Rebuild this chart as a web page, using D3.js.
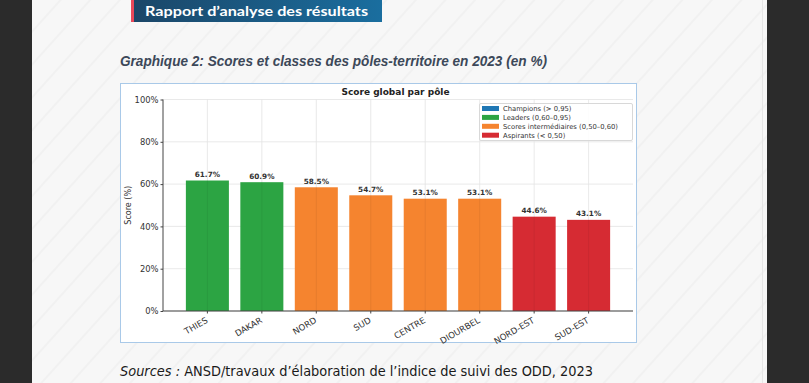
<!DOCTYPE html>
<html>
<head>
<meta charset="utf-8">
<script src="https://cdn.jsdelivr.net/npm/d3@7"></script>
<style>
  html, body { margin: 0; padding: 0; background: #2b2b2b; }
  svg { display: block; }
</style>
</head>
<body>
<div id="page"></div>
<script>
// Données du graphique
const poles = ["THIES", "DAKAR", "NORD", "SUD", "CENTRE", "DIOURBEL", "NORD-EST", "SUD-EST"];
const scores = [61.7, 60.9, 58.5, 54.7, 53.1, 53.1, 44.6, 43.1];
const classes = ["Leaders", "Leaders", "Intermediaires", "Intermediaires", "Intermediaires", "Intermediaires", "Aspirants", "Aspirants"];
const yTicks = [0, 20, 40, 60, 80, 100];
const legendKeys = ["Champions", "Leaders", "Intermediaires", "Aspirants"];
const legendLabels = ["Champions (> 0,95)", "Leaders (0,60–0,95)", "Scores intermédiaires (0,50–0,60)", "Aspirants (< 0,50)"];

// Couleurs
const classColor = d3.scaleOrdinal()
  .domain(legendKeys)
  .range(["#1f77b4", "#2ca443", "#f5842f", "#d62b33"]);
const textColor = "#333333";
const font = "DejaVu Sans, sans-serif";

const width = 809, height = 383;

const svg = d3.select('#page').append('svg')
  .attr('width', width)
  .attr('height', height);

// Fond rayé de la page
const defs = svg.append('defs');
const pat = defs.append('pattern')
  .attr('id', 'stripes')
  .attr('patternUnits', 'userSpaceOnUse')
  .attr('width', 22).attr('height', 22)
  .attr('patternTransform', 'rotate(42)');
pat.append('rect').attr('width', 22).attr('height', 22).attr('fill', '#f7f7f7');
pat.append('rect').attr('width', 2).attr('height', 22).attr('fill', '#f1f1f1');

const banGrad = defs.append('linearGradient').attr('id', 'banGrad');
banGrad.append('stop').attr('offset', '0%').attr('stop-color', '#1b4668');
banGrad.append('stop').attr('offset', '100%').attr('stop-color', '#1a6e9f');

svg.append('rect')
  .attr('x', 32).attr('y', 0)
  .attr('width', 735).attr('height', height)
  .attr('fill', 'url(#stripes)');
svg.append('line')
  .attr('x1', 762.5).attr('x2', 762.5).attr('y1', 0).attr('y2', height)
  .attr('stroke', '#e6e6e6');

// Bandeau
svg.append('rect').attr('x', 131).attr('y', 0).attr('width', 3).attr('height', 22).attr('fill', '#e8485a');
svg.append('rect').attr('x', 134).attr('y', 0).attr('width', 248).attr('height', 22).attr('fill', 'url(#banGrad)');
svg.append('text')
  .attr('x', 145).attr('y', 16)
  .attr('fill', '#ffffff')
  .attr('font-family', 'Lato, sans-serif')
  .attr('font-weight', 'bold')
  .attr('font-size', 13.5)
  .attr('textLength', 223)
  .attr('lengthAdjust', 'spacingAndGlyphs')
  .text("Rapport d’analyse des résultats");

// Titre du graphique
svg.append('text')
  .attr('x', 120).attr('y', 66)
  .attr('fill', '#3c4859')
  .attr('font-family', 'Liberation Sans, Arial, sans-serif')
  .attr('font-weight', 'bold')
  .attr('font-style', 'italic')
  .attr('font-size', 14)
  .attr('textLength', 427)
  .attr('lengthAdjust', 'spacingAndGlyphs')
  .text("Graphique 2: Scores et classes des pôles-territoire en 2023 (en %)");

// Cadre de la figure
svg.append('rect')
  .attr('x', 120.5).attr('y', 83.5)
  .attr('width', 516).attr('height', 259)
  .attr('fill', '#ffffff')
  .attr('stroke', '#a9c9e8');

// Échelles
const x = d3.scaleBand()
  .domain(poles)
  .range([163, 633])
  .paddingInner(0.21)
  .paddingOuter(0.42);
const y = d3.scaleLinear()
  .domain([0, 100])
  .range([311, 99.5]);

// Grille
const grid = svg.append('g').attr('stroke', '#e3e3e3').attr('stroke-width', 0.8);
grid.selectAll('.hg').data(yTicks).join('line')
  .attr('x1', 163).attr('x2', 633)
  .attr('y1', d => y(d)).attr('y2', d => y(d));
grid.selectAll('.vg').data(poles).join('line')
  .attr('x1', d => x(d) + x.bandwidth() / 2).attr('x2', d => x(d) + x.bandwidth() / 2)
  .attr('y1', y(0)).attr('y2', y(100));

// Barres
svg.append('g').selectAll('rect').data(poles).join('rect')
  .attr('x', d => x(d))
  .attr('y', (d, i) => y(scores[i]))
  .attr('width', x.bandwidth())
  .attr('height', (d, i) => y(0) - y(scores[i]))
  .attr('fill', (d, i) => classColor(classes[i]));

// Grille verticale au-dessus des barres (légère)
svg.append('g').attr('stroke', '#000').attr('stroke-opacity', 0.08).attr('stroke-width', 0.8)
  .selectAll('line').data(poles).join('line')
  .attr('x1', d => x(d) + x.bandwidth() / 2).attr('x2', d => x(d) + x.bandwidth() / 2)
  .attr('y1', (d, i) => y(scores[i])).attr('y2', y(0));

// Étiquettes de valeurs
svg.append('g').selectAll('text').data(poles).join('text')
  .attr('x', d => x(d) + x.bandwidth() / 2)
  .attr('y', (d, i) => y(scores[i]) - 3.5)
  .attr('text-anchor', 'middle')
  .attr('font-family', font)
  .attr('font-weight', 'bold')
  .attr('font-size', 7.3)
  .attr('fill', textColor)
  .text((d, i) => scores[i].toFixed(1) + '%');

// Axe Y
const yAxis = svg.append('g')
  .attr('transform', 'translate(163,0)')
  .call(d3.axisLeft(y).tickValues(yTicks).tickFormat(d => d + '%').tickSize(2.5).tickPadding(2));
yAxis.select('.domain').attr('stroke', '#444').attr('d', `M0,${y(0)}V${y(100)}`);
yAxis.selectAll('.tick line').attr('stroke', '#444');
yAxis.selectAll('.tick text')
  .attr('font-family', font).attr('font-size', 8.4).attr('fill', textColor);

// Axe X
const xAxis = svg.append('g')
  .attr('transform', `translate(0,${y(0)})`)
  .call(d3.axisBottom(x).tickSize(2.5).tickFormat(''));
xAxis.select('.domain').attr('stroke', '#444').attr('d', 'M163,0H633');
xAxis.selectAll('.tick line').attr('stroke', '#444');

svg.append('g').selectAll('text').data(poles).join('text')
  .attr('transform', d => `translate(${x(d) + x.bandwidth() / 2 + 1},${y(0) + 11}) rotate(-30)`)
  .attr('text-anchor', 'end')
  .attr('font-family', font)
  .attr('font-size', 8.6)
  .attr('fill', textColor)
  .text(d => d);

// Libellé de l'axe Y
svg.append('text')
  .attr('transform', `translate(131,${(y(0) + y(100)) / 2}) rotate(-90)`)
  .attr('text-anchor', 'middle')
  .attr('font-family', font)
  .attr('font-size', 8)
  .attr('fill', textColor)
  .text('Score (%)');

// Titre interne
svg.append('text')
  .attr('x', 395.5).attr('y', 95)
  .attr('text-anchor', 'middle')
  .attr('font-family', font)
  .attr('font-weight', 'bold')
  .attr('font-size', 9)
  .attr('fill', '#222')
  .text('Score global par pôle');

// Légende
const legend = svg.append('g').attr('transform', 'translate(479,103)');
legend.append('rect')
  .attr('x', 0.5).attr('y', 0.5)
  .attr('width', 153).attr('height', 37)
  .attr('rx', 1.5)
  .attr('fill', '#fff').attr('fill-opacity', 0.9)
  .attr('stroke', '#d8d8d8');
const items = legend.selectAll('g').data(legendKeys).join('g')
  .attr('transform', (d, i) => `translate(3,${3 + i * 8.9})`);
items.append('rect')
  .attr('width', 17).attr('height', 5)
  .attr('fill', d => classColor(d));
items.append('text')
  .attr('x', 21).attr('y', 4.8)
  .attr('font-family', font)
  .attr('font-size', 6.8)
  .attr('fill', textColor)
  .text((d, i) => legendLabels[i]);

// Sources
const src = svg.append('text')
  .attr('x', 120).attr('y', 376)
  .attr('font-family', 'DejaVu Sans, sans-serif')
  .attr('font-size', 14)
  .attr('fill', '#1a1a1a')
  .attr('textLength', 473)
  .attr('lengthAdjust', 'spacingAndGlyphs');
src.append('tspan').attr('font-style', 'italic').text('Sources : ');
src.append('tspan').text('ANSD/travaux d’élaboration de l’indice de suivi des ODD, 2023');
</script>
</body>
</html>
